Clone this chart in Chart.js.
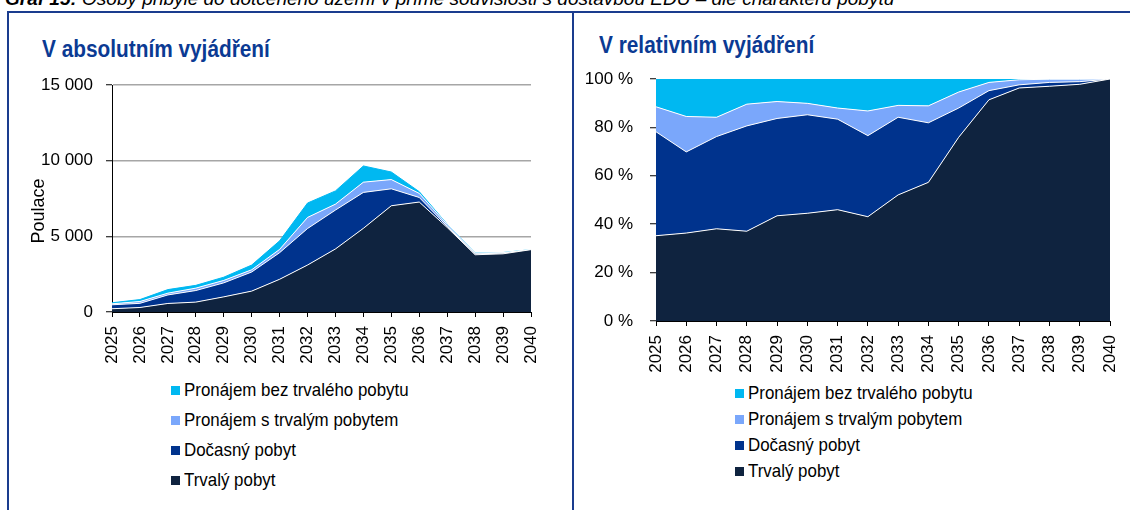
<!DOCTYPE html>
<html>
<head>
<meta charset="utf-8">
<script src="https://cdn.jsdelivr.net/npm/chart.js@4"></script>
<style>
  body { margin: 0; width: 1130px; height: 510px; overflow: hidden; background: #fff; position: relative;
         font-family: "Liberation Sans", Arial, sans-serif; }
  .caption { position: absolute; left: 5px; top: -11px; font: italic 19px "Liberation Sans", Arial, sans-serif;
             white-space: nowrap; color: #000; line-height: 19px; }
  .frame { position: absolute; background: #1a3c8e; }
  .title { position: absolute; font-weight: bold; font-size: 23px; line-height: 23px; color: #0b3a93; white-space: nowrap;
           transform: scaleX(0.905); transform-origin: left center; }
  .box { position: absolute; }
  .legend { position: absolute; font-size: 19px; color: #000; }
  .legend .row { display: flex; align-items: center; white-space: nowrap; }
  .legend .sw { width: 9px; height: 9px; margin-right: 4px; flex: none; }
  .legend .tx { display: inline-block; transform: scaleX(0.89); transform-origin: left center; }
</style>
</head>
<body>
<div class="caption"><b>Graf 15:</b> Osoby přibylé do dotčeného území v přímé souvislosti s dostavbou EDU – dle charakteru pobytu</div>
<div class="frame" style="left:7px; top:11px; width:1123px; height:2px;"></div>
<div class="frame" style="left:7px; top:11px; width:2px; height:499px;"></div>
<div class="frame" style="left:572px; top:11px; width:2px; height:499px;"></div>

<div class="title" style="left:42px; top:38px;">V absolutním vyjádření</div>
<div class="title" style="left:599px; top:34px;">V relativním vyjádření</div>

<div class="box" style="left:20px; top:70px; width:530px; height:300px;"><canvas id="absChart"></canvas></div>
<div class="box" style="left:580px; top:60px; width:550px; height:320px;"><canvas id="relChart"></canvas></div>

<div class="legend" id="absLegend" style="left:171px; top:375px;"></div>
<div class="legend" id="relLegend" style="left:735px; top:380px;"></div>

<script>
const years = ['2025','2026','2027','2028','2029','2030','2031','2032','2033','2034','2035','2036','2037','2038','2039','2040'];

// odhad z grafu (osoby)
const trvaly      = [215, 298, 564, 653, 1000, 1380, 2162, 3103, 4168, 5529, 7021, 7266, 5585, 3783, 3844, 4120];
const docasny     = [262, 275, 564, 766,  925, 1262, 1758, 2412, 2568, 2374, 1119,  302,   75,   62,   43,    0];
const pronajemS   = [ 63, 120, 118, 158,  161,  146,  216,  734,  392,  676,  611,  270,  122,   51,   39,    0];
const pronajemBez = [ 70, 127, 234, 183,  214,  312,  564,  951,  872, 1071,  499,  112,   18,    4,    4,    0];

const seriesNames  = ['Trvalý pobyt', 'Dočasný pobyt', 'Pronájem s trvalým pobytem', 'Pronájem bez trvalého pobytu'];
const seriesColors = ['#0f233f', '#00338d', '#7aa7fb', '#00b8f1'];
const absTicks = [0, 5000, 10000, 15000];
const relTicks = [0, 20, 40, 60, 80, 100];

const allSeries = [trvaly, docasny, pronajemS, pronajemBez];
const totals = years.map((_, i) => allSeries.reduce((s, a) => s + a[i], 0));
const shares = allSeries.map(a => a.map((v, i) => v / totals[i] * 100));

const FONT = '"Liberation Sans", Arial, sans-serif';

function makeDatasets(data) {
  return data.map((d, i) => ({
    label: seriesNames[i],
    data: d,
    backgroundColor: seriesColors[i],
    borderColor: i === data.length - 1 ? seriesColors[i] : '#ffffff',
    borderWidth: 1,
    pointRadius: 0,
    tension: 0,
    fill: i === 0 ? 'origin' : '-1'
  }));
}

// vynulovat přesahy popisků, rozměry řídí layout.padding
function noPad(s) { s.paddingLeft = 0; s.paddingRight = 0; s.paddingTop = 0; s.paddingBottom = 0; }

function makeOptions(cfg) {
  return {
    responsive: true,
    maintainAspectRatio: false,
    animation: false,
    layout: { padding: cfg.padding },
    plugins: { legend: { display: false }, tooltip: { enabled: false } },
    scales: {
      x: {
        offset: false,
        grid: { display: true, drawOnChartArea: false, drawTicks: true, tickLength: 5, color: '#000' },
        border: { color: '#000', width: 1 },
        ticks: { color: '#000', font: { family: FONT, size: 17 }, maxRotation: 90, minRotation: 90, padding: 9, autoSkip: false },
        afterFit: s => { s.height = cfg.xHeight; noPad(s); }
      },
      y: {
        stacked: true,
        min: cfg.min, max: cfg.max,
        afterBuildTicks: s => { s.ticks = cfg.ticks.map(v => ({ value: v })); },
        grid: { color: cfg.gridColor, lineWidth: 1.5, tickLength: 6, tickColor: '#000', tickWidth: 1 },
        border: { color: '#000', width: 1 },
        ticks: { color: '#000', font: { family: FONT, size: 17 }, padding: cfg.tickPad, callback: cfg.fmt },
        title: cfg.yTitle ? { display: true, text: cfg.yTitle, color: '#000', font: { family: FONT, size: 18 }, padding: { top: 8, bottom: 0 } } : { display: false },
        afterFit: s => { s.width = cfg.yWidth; noPad(s); }
      }
    }
  };
}

const fmtThousands = v => String(v).replace(/\B(?=(\d{3})+(?!\d))/g, ' ');

new Chart(document.getElementById('absChart'), {
  type: 'line',
  data: { labels: years, datasets: makeDatasets(allSeries) },
  options: makeOptions({
    padding: { top: 15, right: 19, left: 0, bottom: 0 },
    xHeight: 58, yWidth: 92, tickPad: 13,
    min: 0, max: 15000, ticks: absTicks, fmt: fmtThousands,
    gridColor: '#a6a6a6', yTitle: 'Poulace\u00a0\u00a0\u00a0\u00a0\u00a0'
  })
});

new Chart(document.getElementById('relChart'), {
  type: 'line',
  data: { labels: years, datasets: makeDatasets(shares) },
  options: makeOptions({
    padding: { top: 19, right: 20, left: 0, bottom: 0 },
    xHeight: 59, yWidth: 76, tickPad: 17,
    min: 0, max: 100, ticks: relTicks, fmt: v => v + ' %',
    gridColor: 'rgba(0,0,0,0)'
  })
});

// legenda – pořadí odshora jako v originále
function buildLegend(id, rowH) {
  const el = document.getElementById(id);
  for (let i = seriesNames.length - 1; i >= 0; i--) {
    const row = document.createElement('div');
    row.className = 'row';
    row.style.height = rowH + 'px';
    row.innerHTML = `<span class="sw" style="background:${seriesColors[i]}"></span><span class="tx">${seriesNames[i]}</span>`;
    el.appendChild(row);
  }
}
buildLegend('absLegend', 30);
buildLegend('relLegend', 26);
</script>
</body>
</html>
